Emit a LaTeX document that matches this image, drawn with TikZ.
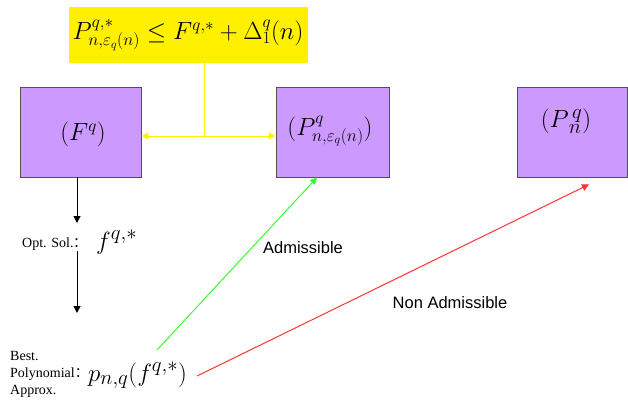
\documentclass[tikz,border=0pt]{standalone}
\usepackage{fontspec}
\setmainfont{Liberation Serif}
\newfontfamily\arialfont{Liberation Sans}
\newfontfamily\cjk{Noto Sans CJK SC}
\usetikzlibrary{arrows.meta}
\definecolor{boxpurple}{RGB}{204,153,255}
\definecolor{boxedge}{RGB}{80,80,80}
\definecolor{yel}{RGB}{255,240,0}
\definecolor{grn}{RGB}{51,255,51}
\definecolor{rd}{RGB}{255,51,51}
\tikzset{
  probbox/.style={draw=boxedge, line width=0.9pt, fill=boxpurple, minimum height=90pt, inner sep=0pt},
  condbox/.style={fill=yel, minimum width=239pt, minimum height=56pt, inner sep=0pt},
  bigmath/.style={font=\fontsize{25}{30}\selectfont, inner sep=0pt},
  largemath/.style={font=\fontsize{29}{34}\selectfont, inner sep=0pt},
  midmath/.style={font=\fontsize{28}{33}\selectfont, inner sep=0pt},
  sans/.style={font=\arialfont\fontsize{16.5}{20}\selectfont, inner sep=0pt},
  serif/.style={font=\fontsize{14}{17}\selectfont, inner sep=0pt, align=left},
  tip/.style={-{Triangle[width=7pt,length=7pt]}},
  yline/.style={draw=yel, line width=1pt},
  gline/.style={draw=grn, line width=1pt},
  rline/.style={draw=rd, line width=1pt},
  kline/.style={draw=black, line width=1pt}
}
\begin{document}
\begin{tikzpicture}[x=1pt,y=-1pt]
\useasboundingbox (0,0) rectangle (628,402);
% condition box
\node[condbox] (cond) at (188.5,35) {};
\node[bigmath] (condtxt) at (188,35) {$P^{q,*}_{n,\varepsilon_q(n)} \leq F^{q,*} + \Delta^q_1(n)$};
% problem boxes
\node[probbox, minimum width=121pt] (F) at (80.5,132) {};
\node[bigmath] (Ftxt) at (83,134) {$(F^q)$};
\node[probbox, minimum width=113pt] (Pe) at (332.5,132) {};
\node[bigmath] (Petxt) at (330,131) {$(P^q_{n,\varepsilon_q(n)})$};
\node[probbox, minimum width=110pt] (Pn) at (572,132) {};
\node[largemath] (Pntxt) at (566,121) {$(P^{\,q}_{\,n})$};
% yellow connectors
\coordinate (j) at (204,136);
\draw[yline] (j) -- (j |- cond.south);
\draw[yline, tip] (j) -- (j -| F.east);
\draw[yline, tip] (j) -- (j -| Pe.west);
% optimal solution
\node[serif, anchor=base west] (opt) at (22,247) {Opt. Sol.\hspace{-0.5pt}{\cjk ：}};
\node[midmath, anchor=base west] (f) at (96,249) {$f^{q,*}$};
\coordinate (fs) at (77,177);
\coordinate (oa) at (77,223);
\coordinate (ob) at (77,251);
\coordinate (ba) at (77,313);
\draw[kline, tip] (fs) -- (oa);
% best polynomial approximation
\node[serif, anchor=north west] (best) at (10,351) {Best.\\Polynomial{\cjk ：}\\Approx.};
\node[midmath, anchor=base west] (p) at (88,381) {$p_{n,q}(f^{q,*})$};
\draw[kline, tip] (ob) -- (ba);
% admissible connectors
\coordinate (gs) at (157,350);
\coordinate (rs) at (197,376);
\draw[gline, tip] (gs) -- ([xshift=-15.5pt]Pe.south);
\draw[rline, tip] (rs) -- ([xshift=17pt,yshift=-7pt]Pn.south);
\node[sans] (adm) at (303,248) {Admissible};
\node[sans] (nadm) at (450,303) {Non Admissible};
\end{tikzpicture}
\end{document}
